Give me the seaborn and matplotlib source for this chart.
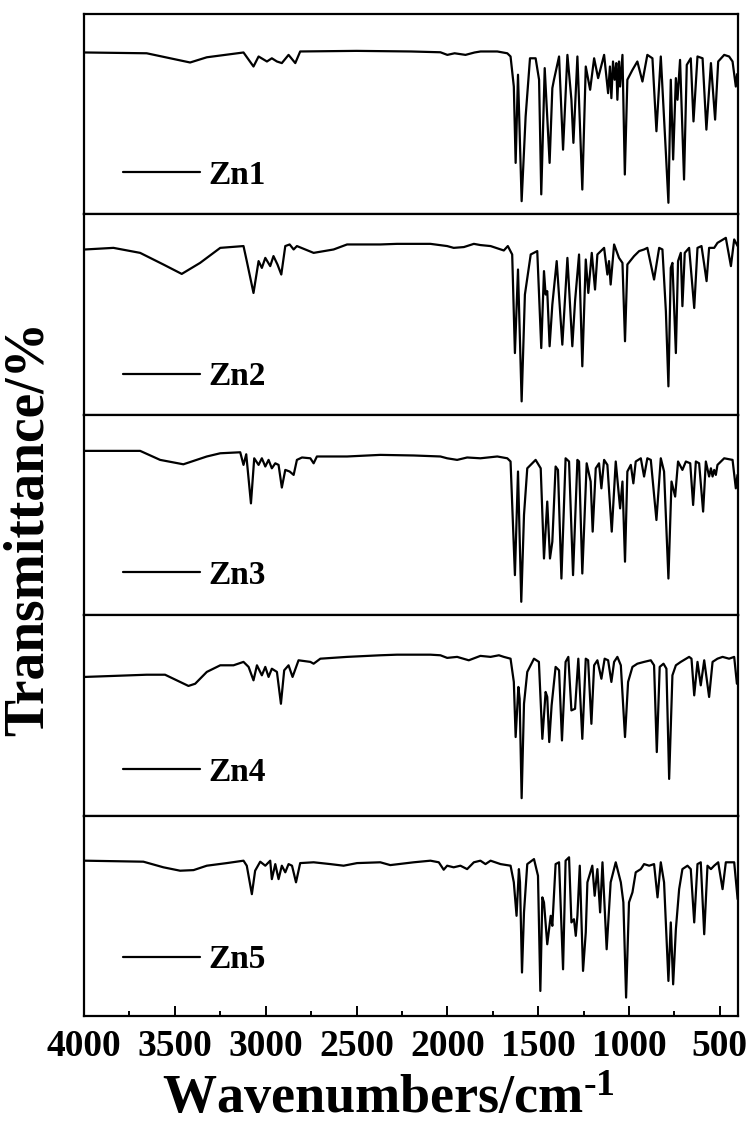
import matplotlib
matplotlib.use("Agg")
import matplotlib.pyplot as plt
from matplotlib.ticker import MultipleLocator
import seaborn as sns
import pandas as pd

# ---------------- data ----------------
samples = ["Zn1", "Zn2", "Zn3", "Zn4", "Zn5"]

zn1_wn = [3994, 3655, 3416, 3324, 3122, 3067, 3039, 2993, 2966, 2938, 2911, 2874, 2837, 2810,
          2500, 2200, 2038, 2000, 1960, 1900, 1850, 1817, 1725, 1670, 1652, 1634, 1624, 1611,
          1591, 1569, 1545, 1514, 1495, 1483, 1464, 1437, 1422, 1413, 1385, 1363, 1339, 1317,
          1306, 1284, 1257, 1238, 1214, 1192, 1170, 1137, 1115, 1105, 1097, 1088, 1079, 1070,
          1064, 1055, 1049, 1036, 1023, 1009, 981, 954, 926, 899, 871, 849, 825, 797, 783, 770,
          757, 742, 733, 719, 697, 682, 660, 645, 623, 595, 574, 549, 526, 509, 476, 449, 430,
          412, 405]
zn1_t = [80.8, 80.4, 75.8, 78.4, 80.8, 73.8, 78.8, 76.3, 77.9, 76.3, 75.5, 79.6, 75.5, 81.3,
         81.6, 81.3, 80.9, 79.6, 80.4, 79.6, 80.8, 81.3, 81.3, 80.4, 78.8, 63.8, 25.7, 69.7,
         6.6, 48.9, 77.9, 77.9, 67.2, 10.0, 73.0, 25.7, 63.0, 67.2, 78.8, 32.3, 79.6, 57.2,
         35.7, 78.8, 12.4, 73.8, 62.2, 77.9, 68.0, 79.6, 60.5, 73.8, 58.0, 76.3, 67.2, 75.5,
         57.2, 76.3, 63.8, 79.6, 19.9, 67.2, 72.1, 76.3, 66.3, 79.6, 77.9, 41.5, 78.8, 30.7,
         5.8, 67.2, 27.4, 68.0, 57.2, 77.1, 17.4, 74.6, 77.9, 46.4, 78.8, 77.9, 42.3, 75.5,
         47.3, 76.3, 79.6, 78.8, 76.3, 63.8, 70.0]

zn2_wn = [3994, 3838, 3691, 3563, 3462, 3361, 3250, 3122, 3104, 3067, 3039, 3021, 3002, 2975,
          2957, 2935, 2914, 2892, 2868, 2846, 2828, 2736, 2626, 2552, 2369, 2277, 2093, 2001,
          1965, 1909, 1854, 1818, 1762, 1689, 1667, 1643, 1628, 1611, 1591, 1573, 1541, 1505,
          1483, 1468, 1459, 1450, 1437, 1422, 1398, 1367, 1339, 1312, 1297, 1275, 1257, 1238,
          1224, 1205, 1187, 1174, 1137, 1119, 1110, 1101, 1082, 1055, 1036, 1022, 1009, 972,
          944, 917, 899, 862, 834, 816, 797, 783, 770, 761, 742, 730, 715, 706, 693, 669, 641,
          623, 601, 586, 573, 559, 531, 513, 467, 439, 421, 402]
zn2_t = [82.5, 83.3, 80.8, 75.0, 70.3, 75.8, 83.3, 84.2, 76.7, 60.8, 76.7, 73.3, 78.3, 74.2,
         79.2, 75.0, 70.0, 84.2, 85.0, 82.5, 84.2, 80.8, 82.5, 85.0, 85.0, 85.3, 85.3, 84.2,
         83.3, 83.7, 85.3, 84.7, 84.2, 82.0, 84.2, 80.0, 30.8, 72.5, 6.7, 60.0, 80.0, 81.7,
         33.3, 71.7, 60.0, 61.7, 34.2, 55.0, 76.7, 35.0, 78.3, 34.2, 56.7, 80.0, 24.2, 77.5,
         60.8, 80.8, 62.5, 80.0, 83.3, 70.0, 76.7, 65.0, 85.0, 78.3, 75.8, 36.7, 75.0, 79.2,
         81.7, 82.5, 83.3, 67.5, 83.3, 82.5, 51.7, 14.2, 73.3, 75.8, 30.8, 76.7, 80.8, 54.2,
         80.8, 83.3, 53.3, 83.3, 84.2, 75.0, 66.7, 83.3, 83.3, 85.8, 88.3, 74.2, 87.5, 84.2]

zn3_wn = [3994, 3691, 3581, 3453, 3324, 3250, 3140, 3122, 3107, 3081, 3063, 3039, 3021, 3002,
          2984, 2966, 2947, 2929, 2911, 2892, 2868, 2846, 2828, 2800, 2754, 2736, 2718, 2552,
          2369, 2185, 2038, 2001, 1946, 1891, 1818, 1725, 1670, 1652, 1628, 1611, 1593, 1578,
          1560, 1514, 1486, 1468, 1450, 1435, 1422, 1404, 1391, 1372, 1349, 1330, 1308, 1284,
          1275, 1257, 1233, 1211, 1200, 1183, 1165, 1152, 1137, 1119, 1095, 1073, 1049, 1036,
          1022, 1009, 990, 976, 963, 935, 917, 899, 880, 849, 825, 807, 783, 766, 746, 730,
          706, 687, 663, 647, 632, 614, 592, 577, 559, 549, 540, 531, 522, 513, 476, 430, 412,
          403]
zn3_t = [82.0, 82.0, 77.5, 75.3, 79.2, 80.8, 81.3, 75.0, 80.3, 55.8, 78.3, 75.0, 78.3, 74.2,
         77.5, 73.3, 75.8, 75.0, 63.7, 72.5, 71.7, 70.0, 77.5, 78.7, 78.3, 75.8, 79.2, 79.2,
         80.0, 79.7, 79.2, 78.3, 77.5, 78.7, 78.3, 79.2, 78.3, 76.7, 20.0, 71.7, 6.7, 50.0,
         73.3, 77.5, 73.3, 28.3, 56.7, 28.3, 36.7, 74.2, 72.5, 18.3, 78.3, 76.7, 20.0, 77.5,
         76.7, 20.8, 75.8, 66.7, 41.7, 73.3, 75.8, 63.3, 77.5, 75.0, 41.7, 76.7, 53.3, 66.7,
         26.7, 71.7, 75.0, 65.8, 76.7, 78.3, 69.2, 78.3, 77.5, 47.5, 78.3, 71.7, 18.3, 66.7,
         59.2, 76.7, 72.5, 76.7, 75.8, 55.0, 76.7, 75.8, 51.7, 76.7, 69.2, 73.3, 69.2, 72.5,
         70.0, 75.0, 78.3, 77.5, 63.3, 70.0]

zn4_wn = [3994, 3838, 3655, 3554, 3471, 3425, 3388, 3324, 3250, 3177, 3122, 3094, 3067, 3048,
          3021, 3002, 2984, 2966, 2938, 2916, 2898, 2874, 2852, 2819, 2754, 2736, 2699, 2552,
          2369, 2277, 2093, 2038, 2001, 1946, 1882, 1818, 1762, 1716, 1689, 1652, 1634, 1624,
          1609, 1602, 1591, 1578, 1560, 1523, 1496, 1477, 1459, 1450, 1439, 1426, 1404, 1385,
          1369, 1349, 1334, 1317, 1297, 1279, 1257, 1238, 1225, 1207, 1192, 1174, 1152, 1134,
          1115, 1097, 1082, 1064, 1045, 1022, 1005, 981, 954, 917, 880, 862, 847, 831, 810,
          794, 779, 761, 742, 715, 669, 656, 641, 623, 605, 586, 559, 540, 513, 485, 449, 421,
          406]
zn4_t = [69.2, 69.7, 70.3, 70.3, 66.7, 64.7, 65.8, 71.7, 75.0, 75.0, 76.7, 74.2, 67.5, 75.0,
         70.0, 74.2, 69.2, 73.3, 71.7, 55.8, 72.5, 75.0, 69.2, 77.5, 76.7, 75.8, 78.3, 79.2,
         80.0, 80.3, 80.3, 80.0, 78.7, 79.2, 77.5, 79.7, 79.2, 80.0, 79.2, 78.3, 66.7, 39.2,
         64.2, 58.3, 8.7, 55.8, 71.7, 78.3, 76.7, 38.3, 61.7, 59.2, 36.7, 55.0, 74.2, 72.5,
         37.5, 76.7, 79.2, 52.5, 53.3, 78.3, 38.3, 78.3, 77.5, 45.8, 75.0, 77.5, 68.3, 78.3,
         77.5, 66.7, 76.7, 79.2, 75.0, 39.2, 66.7, 74.2, 75.8, 76.7, 77.5, 75.0, 31.7, 74.2,
         75.8, 73.3, 18.3, 70.0, 75.0, 76.7, 79.2, 78.3, 60.0, 76.7, 65.0, 77.5, 59.2, 76.7,
         78.3, 79.2, 78.3, 79.2, 65.8]

zn5_wn = [3994, 3673, 3563, 3471, 3397, 3324, 3214, 3122, 3104, 3076, 3058, 3030, 3002, 2975,
          2966, 2947, 2929, 2911, 2892, 2874, 2855, 2833, 2810, 2736, 2644, 2571, 2497, 2369,
          2314, 2185, 2093, 2047, 2020, 2001, 1965, 1928, 1891, 1854, 1818, 1790, 1762, 1707,
          1652, 1634, 1619, 1606, 1600, 1589, 1578, 1560, 1523, 1501, 1488, 1477, 1468, 1450,
          1431, 1422, 1404, 1385, 1363, 1349, 1330, 1317, 1303, 1293, 1284, 1271, 1253, 1238,
          1229, 1202, 1189, 1174, 1159, 1146, 1123, 1101, 1073, 1045, 1031, 1016, 1000, 981,
          963, 935, 917, 889, 862, 843, 825, 807, 783, 770, 757, 742, 724, 706, 678, 660, 641,
          623, 605, 586, 568, 549, 531, 509, 485, 467, 421, 402]
zn5_t = [77.5, 77.0, 74.2, 72.5, 72.8, 75.0, 76.3, 77.5, 75.0, 60.8, 72.5, 77.0, 75.0, 77.5,
         68.3, 75.8, 68.3, 75.0, 71.7, 75.8, 75.0, 66.7, 76.3, 76.7, 75.8, 75.0, 76.3, 76.7,
         75.3, 76.7, 77.5, 76.7, 73.0, 75.0, 74.2, 75.0, 73.3, 76.7, 77.5, 75.8, 77.5, 75.8,
         75.0, 66.7, 50.0, 73.3, 66.7, 21.7, 51.7, 75.8, 78.3, 70.0, 12.5, 59.2, 56.7, 35.8,
         50.0, 45.0, 75.8, 76.7, 23.3, 77.5, 79.2, 46.7, 48.3, 40.0, 50.0, 75.0, 22.5, 41.7,
         66.7, 75.0, 60.0, 73.3, 51.7, 76.7, 33.3, 66.7, 76.7, 66.7, 56.7, 9.2, 56.7, 61.7,
         71.7, 73.3, 75.8, 75.0, 75.8, 59.2, 76.7, 66.7, 17.5, 46.7, 15.8, 43.3, 63.3, 73.3,
         75.0, 73.3, 46.7, 75.8, 76.7, 40.8, 75.0, 73.3, 75.0, 76.7, 63.3, 76.7, 76.7, 58.3]

spectra_wn = [zn1_wn, zn2_wn, zn3_wn, zn4_wn, zn5_wn]
spectra_t = [zn1_t, zn2_t, zn3_t, zn4_t, zn5_t]

xtick_values = [4000, 3500, 3000, 2500, 2000, 1500, 1000, 500]
x_label = r"Wavenumbers/cm$^{\text{-1}}$"
y_label = "Transmittance/%"

# ---------------- style ----------------
sns.set_style("ticks")
plt.rcParams["font.family"] = ["Liberation Serif", "DejaVu Serif"]
plt.rcParams["font.weight"] = "bold"
plt.rcParams["text.color"] = "black"
plt.rcParams["axes.labelcolor"] = "black"
plt.rcParams["xtick.color"] = "black"
plt.rcParams["ytick.color"] = "black"
plt.rcParams["axes.edgecolor"] = "black"
plt.rcParams["legend.labelcolor"] = "black"
plt.rcParams["mathtext.fontset"] = "custom"
plt.rcParams["mathtext.rm"] = "Liberation Serif:bold"
plt.rcParams["mathtext.it"] = "Liberation Serif:bold"
plt.rcParams["mathtext.bf"] = "Liberation Serif:bold"
plt.rcParams["mathtext.default"] = "rm"

W, H = 752, 1131
fig = plt.figure(figsize=(W / 100, H / 100), dpi=100)
gs = fig.add_gridspec(5, 1, left=84 / W, right=738 / W, top=1 - 14 / H,
                      bottom=1 - 1016 / H, hspace=0)

legend_y = [0.195, 0.19, 0.20, 0.217, 0.28]

axes = []
for i, name in enumerate(samples):
    ax = fig.add_subplot(gs[i, 0])
    axes.append(ax)
    df = pd.DataFrame({"wn": spectra_wn[i], "T": spectra_t[i]})
    sns.lineplot(data=df, x="wn", y="T", ax=ax, color="black", lw=1.6,
                 label=name, estimator=None, sort=False)
    ax.set_xlim(4000, 400)
    ax.set_ylim(0, 100)
    ax.set_yticks([])
    ax.set_xlabel("")
    ax.set_ylabel("")
    for sp in ax.spines.values():
        sp.set_linewidth(1.6)
        sp.set_color("black")
    ax.legend(loc="center left", bbox_to_anchor=(0.06, legend_y[i]),
              frameon=False, handlelength=2.3, handletextpad=0.25,
              borderpad=0, borderaxespad=0, labelcolor="black",
              prop=dict(family="Liberation Serif", weight="bold", size=24))
    if i < len(samples) - 1:
        ax.tick_params(axis="x", which="both", bottom=False, labelbottom=False)
    else:
        ax.set_xticks(xtick_values)
        ax.set_xticklabels([str(v) for v in xtick_values])
        ax.xaxis.set_minor_locator(MultipleLocator(250))
        ax.tick_params(axis="x", which="major", direction="in", length=7, width=1.4,
                       pad=9, labelsize=27, colors="black")
        ax.tick_params(axis="x", which="minor", direction="in", length=3.6, width=1.4,
                       colors="black")
        for lab in ax.get_xticklabels():
            lab.set_fontweight("bold")

fig.text(388 / W, 1 - 1100 / H, x_label, ha="center", va="center",
         fontsize=39, fontweight="bold", color="black")
fig.text(29 / W, 1 - 528 / H, y_label, rotation=90, ha="center", va="center",
         fontsize=40, fontweight="bold", color="black")

fig.savefig("out.png", dpi=100)
